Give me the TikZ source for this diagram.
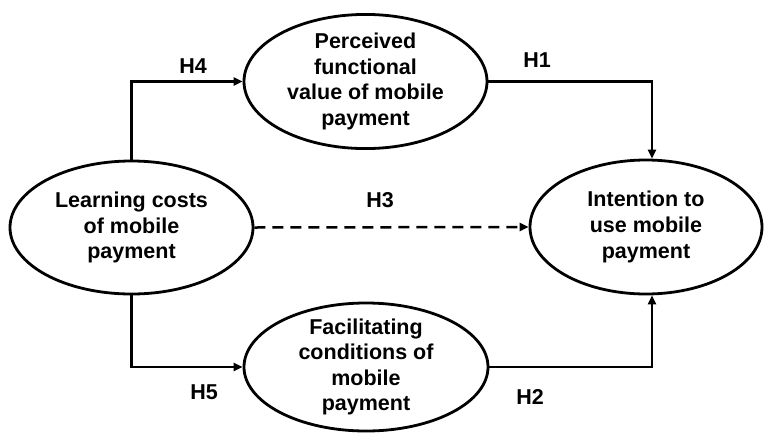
\documentclass[tikz,border=0pt]{standalone}
\usepackage{fontspec}
\setmainfont{Liberation Sans}
\usetikzlibrary{arrows.meta,shapes.geometric}
\begin{document}
\begin{tikzpicture}[x=1pt,y=-1pt,
  construct/.style={draw=black,line width=2.8pt,ellipse,inner sep=0pt,align=center,
    font=\fontsize{21.5}{25.6}\selectfont\bfseries},
  conn/.style={draw=black,line width=2.5pt,-{Triangle[length=9pt,width=8pt]}},
  hyp/.style={font=\fontsize{21.5}{25}\selectfont\bfseries,inner sep=0pt}]
\useasboundingbox (0,0) rectangle (764,432);
\node[construct,inner ysep=-1pt,minimum width=243pt,minimum height=134pt] (T) at (365.5,81.5)
  {Perceived\\functional\\value of mobile\\payment};
\node[construct,minimum width=243pt,minimum height=133pt] (L) at (131.5,227.5)
  {Learning costs\\of mobile\\payment};
\node[construct,minimum width=232pt,minimum height=134pt] (R) at (646,227)
  {Intention to\\use mobile\\payment};
\node[construct,inner ysep=-4pt,minimum width=244pt,minimum height=128pt] (B) at (366,367)
  {Facilitating\\conditions of\\mobile\\payment};
\draw[conn] (L.north) |- (T.west);
\draw[conn] (T.east) -| ([xshift=6pt]R.north);
\draw[conn] (L.south) |- (B.west);
\draw[conn] (B.east) -| ([xshift=6pt]R.south);
\draw[conn,dash pattern=on 11pt off 7pt] (L.east) -- (R.west);
\node[hyp] (h4) at (193,66) {H4};
\node[hyp] (h1) at (537,60) {H1};
\node[hyp] (h3) at (380,200) {H3};
\node[hyp] (h5) at (204,392) {H5};
\node[hyp] (h2) at (530,397) {H2};
\end{tikzpicture}
\end{document}
